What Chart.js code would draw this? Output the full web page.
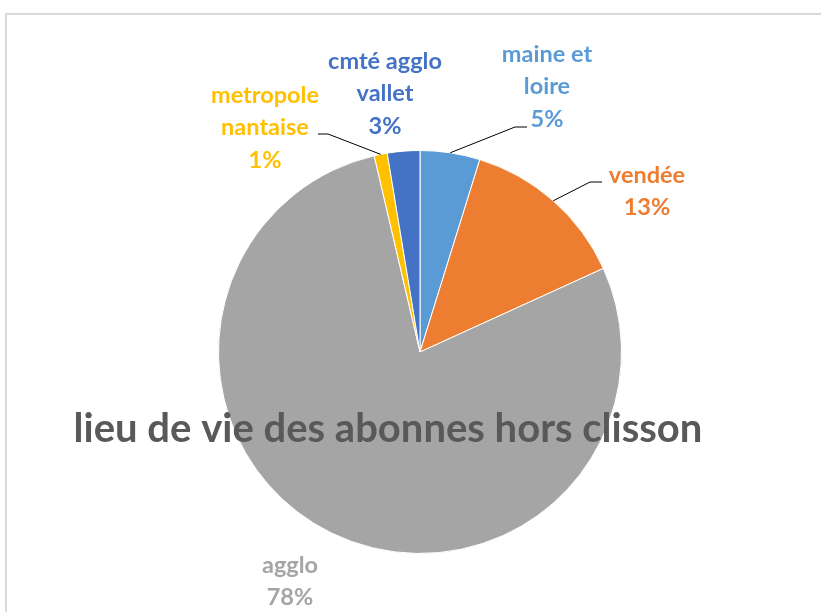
<!DOCTYPE html>
<html>
<head>
<meta charset="utf-8">
<script src="https://cdn.jsdelivr.net/npm/chart.js@4/dist/chart.umd.min.js"></script>
<style>
  html, body { margin: 0; padding: 0; background: #ffffff; }
  #wrap { position: relative; width: 821px; height: 612px; }
  canvas { display: block; }
</style>
</head>
<body>
<div id="wrap"><canvas id="c" width="821" height="612"></canvas></div>
<script>
// ---- data ----
const categories = ['maine et loire', 'vendée', 'agglo', 'metropole nantaise', 'cmté agglo vallet'];
const labelLines = [['maine et', 'loire'], ['vendée'], ['agglo'], ['metropole', 'nantaise'], ['cmté agglo', 'vallet']];
const values = [4.8, 13.4, 78.2, 1.05, 2.6];
const colors = ['#5B9BD5', '#ED7D31', '#A5A5A5', '#FFC000', '#4472C4'];
const titleText = 'lieu de vie des abonnes hors clisson';

// ---- layout of the data labels (positions only) ----
const labelLayout = [
  { cx: 547, cy: 54, leader: [[515, 127], [527, 127]] },
  { cx: 647, cy: 175, leader: [[590, 182], [602, 182]] },
  { cx: 290, cy: 565, leader: null },
  { cx: 265, cy: 95, leader: [[328, 134], [318, 134]] },
  { cx: 385, cy: 61, leader: null }
];

const FONT = 'Lato, "Open Sans", sans-serif';
const total = values.reduce((a, b) => a + b, 0);

const overlay = {
  id: 'overlay',
  beforeDraw(chart) {
    const ctx = chart.ctx;
    ctx.save();
    ctx.strokeStyle = '#d9d9d9';
    ctx.lineWidth = 2;
    ctx.beginPath();
    ctx.moveTo(6, 612);
    ctx.lineTo(6, 14);
    ctx.lineTo(821, 14);
    ctx.stroke();
    ctx.restore();
  },
  afterDatasetsDraw(chart) {
    const ctx = chart.ctx;
    const meta = chart.getDatasetMeta(0);
    ctx.save();
    // leader lines
    meta.data.forEach((arc, i) => {
      const L = labelLayout[i];
      if (!L.leader) return;
      const p = arc.getProps(['x', 'y', 'startAngle', 'endAngle', 'outerRadius'], true);
      const mid = (p.startAngle + p.endAngle) / 2;
      const sx = p.x + Math.cos(mid) * p.outerRadius;
      const sy = p.y + Math.sin(mid) * p.outerRadius;
      ctx.strokeStyle = '#000000';
      ctx.lineWidth = 1;
      ctx.beginPath();
      ctx.moveTo(sx, sy);
      ctx.lineTo(L.leader[0][0], L.leader[0][1]);
      ctx.lineTo(L.leader[1][0], L.leader[1][1]);
      ctx.stroke();
    });
    // labels
    ctx.font = 'bold 23.5px ' + FONT;
    ctx.textAlign = 'center';
    ctx.textBaseline = 'middle';
    values.forEach((v, i) => {
      const L = labelLayout[i];
      const lines = labelLines[i].concat([Math.round(v / total * 100) + '%']);
      ctx.fillStyle = colors[i];
      lines.forEach((t, k) => ctx.fillText(t, L.cx, L.cy + k * 32.5));
    });
    // title (drawn over the pie)
    ctx.fillStyle = '#595959';
    ctx.font = 'bold 40px ' + FONT;
    ctx.fillText(titleText, 388, 429);
    ctx.restore();
  }
};

new Chart(document.getElementById('c'), {
  type: 'pie',
  data: {
    labels: categories,
    datasets: [{
      data: values,
      backgroundColor: colors,
      borderColor: '#ffffff',
      borderWidth: 1
    }]
  },
  options: {
    responsive: false,
    devicePixelRatio: 1,
    animation: false,
    layout: { padding: { left: 218, right: 199, top: 150, bottom: 58 } },
    plugins: {
      legend: { display: false },
      title: { display: false },
      tooltip: { enabled: false }
    }
  },
  plugins: [overlay]
});
</script>
</body>
</html>
